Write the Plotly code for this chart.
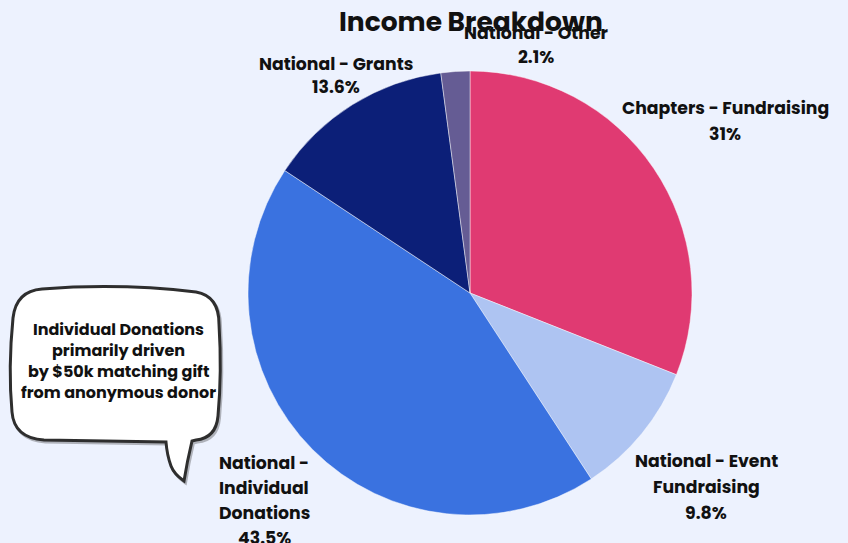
import plotly.graph_objects as go

W, H = 848, 543

# ---- data ----
categories = ["Chapters - Fundraising", "National - Event Fundraising",
              "National - Individual Donations", "National - Grants", "National - Other"]
values = [31.0, 9.8, 43.5, 13.6, 2.1]
colors = ["#E03A72", "#AEC4F2", "#3A72E0", "#0C1F78", "#655C94"]
label_lines = [
    ["Chapters - Fundraising", "31%"],
    ["National - Event", "Fundraising", "9.8%"],
    ["National -", "Individual", "Donations", "43.5%"],
    ["National - Grants", "13.6%"],
    ["National - Other", "2.1%"],
]
title_text = "Income Breakdown"
note_lines = ["Individual Donations", "primarily driven",
              "by $50k matching gift", "from anonymous donor"]

# ---- layout helpers (pixel -> paper) ----
def px(x):
    return x / W

def py(y):
    return 1 - y / H

FONT = "Poppins, Inter, 'Open Sans', sans-serif"

# pie geometry
cx, cy, r = 470, 293, 222

fig = go.Figure(go.Pie(
    labels=categories,
    values=values,
    sort=False,
    direction="clockwise",
    rotation=0,
    marker=dict(colors=colors, line=dict(color="rgba(255,255,255,0.45)", width=1)),
    textinfo="none",
    hoverinfo="label+percent",
    domain=dict(x=[px(cx - r), px(cx + r)], y=[py(cy + r), py(cy - r)]),
    showlegend=False,
))

# label positions (block x center, first line y, line spacing)
label_pos = [
    (725, 108, 26),
    (706, 461, 26),
    (264, 463, 25),
    (336, 64, 23),
    (536, 33, 24),
]

annotations = []
for lines, (lx, ly, sp) in zip(label_lines, label_pos):
    for i, t in enumerate(lines):
        annotations.append(dict(
            text=t, x=px(lx), y=py(ly + i * sp), xref="paper", yref="paper",
            xanchor="center", yanchor="middle", showarrow=False,
            font=dict(family=FONT, size=17.3, color="#111111", weight="bold"),
        ))

# title
annotations.append(dict(
    text=title_text, x=px(471), y=py(21), xref="paper", yref="paper",
    xanchor="center", yanchor="middle", showarrow=False,
    font=dict(family=FONT, size=26.5, color="#111111", weight="bold"),
))

# speech-bubble note
for i, t in enumerate(note_lines):
    annotations.append(dict(
        text=t, x=px(118), y=py(329 + i * 21), xref="paper", yref="paper",
        xanchor="center", yanchor="middle", showarrow=False,
        font=dict(family=FONT, size=16, color="#111111", weight="bold"),
    ))

def path_from(cmds):
    out = []
    for c in cmds:
        op, pts = c[0], c[1:]
        coords = " ".join(f"{px(x):.5f},{py(y):.5f}" for x, y in pts)
        out.append(f"{op} {coords}" if coords else op)
    return " ".join(out)

bubble = [
    ("M", (42, 289)),
    ("Q", (120, 283), (196, 292)),
    ("Q", (219, 296), (219, 324)),
    ("Q", (222, 372), (218, 416)),
    ("Q", (216, 438), (196, 440)),
    ("L", (192, 441)),
    ("Q", (187, 462), (184, 481)),
    ("Q", (174, 474), (171, 466)),
    ("Q", (167, 455), (166, 442)),
    ("L", (44, 440)),
    ("Q", (14, 438), (12, 412)),
    ("Q", (8, 368), (13, 318)),
    ("Q", (16, 291), (42, 289)),
    ("Z",),
]

shapes = [
    dict(type="path", xref="paper", yref="paper",
         path=path_from([(c[0],) + tuple((x + 1.5, y + 2) for x, y in c[1:]) for c in bubble]),
         fillcolor="rgba(0,0,0,0)", line=dict(color="rgba(60,60,60,0.35)", width=3)),
    dict(type="path", xref="paper", yref="paper", path=path_from(bubble),
         fillcolor="#FFFFFF", line=dict(color="#2E2E2E", width=3)),
]

fig.update_layout(
    width=W, height=H,
    margin=dict(l=0, r=0, t=0, b=0),
    paper_bgcolor="#EDF2FE",
    plot_bgcolor="#EDF2FE",
    annotations=annotations,
    shapes=shapes,
)

fig.write_html("out.html")
